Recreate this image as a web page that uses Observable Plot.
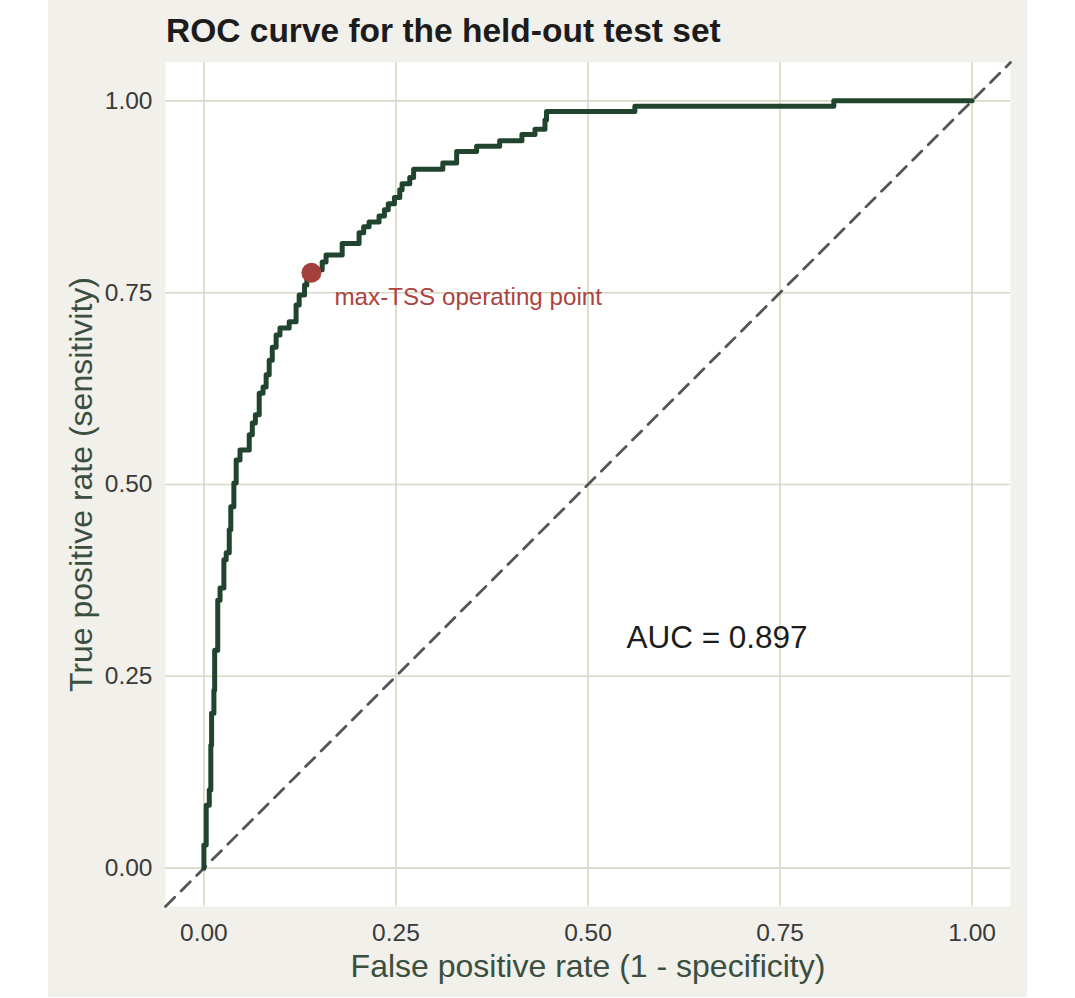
<!DOCTYPE html>
<html>
<head>
<meta charset="utf-8">
<script src="https://cdn.jsdelivr.net/npm/d3@7"></script>
<script src="https://cdn.jsdelivr.net/npm/@observablehq/plot@0.6"></script>
<style>
  body { margin: 0; background: #ffffff; font-family: "Liberation Sans", Arial, sans-serif; }
  #wrap { position: relative; width: 1075px; height: 998px; }
  #bg { position: absolute; left: 48px; top: 0; width: 979px; height: 997px; background: #f1f0ea; }
  #title { position: absolute; left: 166px; top: 14px; font-size: 33.5px; line-height: 33.5px; font-weight: bold; color: #1c1c1c; white-space: nowrap; }
  #chart { position: absolute; left: 0; top: 0; }
</style>
</head>
<body>
<div id="wrap">
  <div id="bg"></div>
  <div id="title">ROC curve for the held-out test set</div>
  <div id="chart"></div>
</div>
<script>
// ROC curve vertices (false positive rate, true positive rate), in path order
const rocFpr = [
  0, 0, 0.003, 0.003, 0.007, 0.007, 0.009, 0.009, 0.010, 0.010,
  0.013, 0.013, 0.014, 0.014, 0.018, 0.018, 0.021, 0.021, 0.026, 0.026,
  0.029, 0.029, 0.033, 0.033, 0.035, 0.035, 0.039, 0.039, 0.042, 0.042,
  0.047, 0.047, 0.059, 0.059, 0.063, 0.063, 0.067, 0.067, 0.072, 0.072,
  0.077, 0.077, 0.081, 0.081, 0.085, 0.085, 0.089, 0.089, 0.094, 0.094,
  0.099, 0.099, 0.111, 0.111, 0.120, 0.120, 0.124, 0.124, 0.131, 0.131,
  0.134, 0.134, 0.140, 0.140, 0.154, 0.154, 0.159, 0.159, 0.180, 0.180,
  0.202, 0.202, 0.208, 0.208, 0.215, 0.215, 0.228, 0.228, 0.235, 0.235,
  0.240, 0.240, 0.248, 0.248, 0.255, 0.255, 0.258, 0.258, 0.268, 0.268,
  0.273, 0.273, 0.311, 0.311, 0.329, 0.329, 0.355, 0.355, 0.385, 0.385,
  0.414, 0.414, 0.431, 0.431, 0.444, 0.444, 0.446, 0.446, 0.561, 0.561,
  0.820, 0.820, 1.000
];
const rocTpr = [
  0, 0.030, 0.030, 0.082, 0.082, 0.102, 0.102, 0.160, 0.160, 0.202,
  0.202, 0.232, 0.232, 0.284, 0.284, 0.349, 0.349, 0.365, 0.365, 0.402,
  0.402, 0.411, 0.411, 0.441, 0.441, 0.471, 0.471, 0.502, 0.502, 0.532,
  0.532, 0.545, 0.545, 0.565, 0.565, 0.580, 0.580, 0.591, 0.591, 0.619,
  0.619, 0.627, 0.627, 0.643, 0.643, 0.662, 0.662, 0.679, 0.679, 0.695,
  0.695, 0.704, 0.704, 0.712, 0.712, 0.734, 0.734, 0.747, 0.747, 0.760,
  0.760, 0.773, 0.773, 0.780, 0.780, 0.790, 0.790, 0.799, 0.799, 0.814,
  0.814, 0.828, 0.828, 0.836, 0.836, 0.842, 0.842, 0.850, 0.850, 0.858,
  0.858, 0.866, 0.866, 0.874, 0.874, 0.884, 0.884, 0.892, 0.892, 0.900,
  0.900, 0.911, 0.911, 0.919, 0.919, 0.934, 0.934, 0.941, 0.941, 0.948,
  0.948, 0.956, 0.956, 0.963, 0.963, 0.975, 0.975, 0.986, 0.986, 0.993,
  0.993, 1.000, 1.000
];

// Threshold that maximises TSS (sensitivity + specificity - 1)
const opFpr = [0.140];
const opTpr = [0.776];
const opLabel = ["max-TSS operating point"];

const aucValue = 0.897;
const tickValues = [0, 0.25, 0.5, 0.75, 1];
const chanceLine = [-0.05, 1.05];

const xTitle = "False positive rate (1 - specificity)";
const yTitle = "True positive rate (sensitivity)";

const roc = rocFpr.map((f, i) => ({fpr: f, tpr: rocTpr[i]}));
const op = opFpr.map((f, i) => ({fpr: f, tpr: opTpr[i], label: opLabel[i]}));

const chart = Plot.plot({
  width: 1075,
  height: 998,
  marginTop: 62,
  marginLeft: 165,
  marginRight: 65,
  marginBottom: 92,
  style: {background: "transparent", fontFamily: "Liberation Sans, Arial, sans-serif", overflow: "visible"},
  x: {domain: [-0.05, 1.05]},
  y: {domain: [-0.05, 1.05]},
  marks: [
    Plot.frame({fill: "#ffffff", stroke: null}),
    Plot.gridX(tickValues, {stroke: "#d8d8c6", strokeOpacity: 1, strokeWidth: 1.6}),
    Plot.gridY(tickValues, {stroke: "#d8d8c6", strokeOpacity: 1, strokeWidth: 1.6}),
    Plot.line(chanceLine, {x: d => d, y: d => d, stroke: "#555555", strokeWidth: 2.8, strokeDasharray: "13,9"}),
    Plot.line(roc, {x: "fpr", y: "tpr", stroke: "#21442f", strokeWidth: 5, strokeLinejoin: "round"}),
    Plot.dot(op, {x: "fpr", y: "tpr", r: 10, fill: "#a53f3d", stroke: null}),
    Plot.text(op, {x: "fpr", y: "tpr", text: "label", dx: 23, dy: 25, textAnchor: "start", fontSize: 24.2, fill: "#ad4340"}),
    Plot.text([`AUC = ${aucValue.toFixed(3)}`], {x: 0.55, y: 0.30, textAnchor: "start", fontSize: 31.5, fill: "#1c1c1c"}),
    Plot.axisX(tickValues, {tickSize: 0, tickPadding: 17, fontSize: 24.5, color: "#3a3a3a", tickFormat: d3.format(".2f"), label: null}),
    Plot.axisY(tickValues, {tickSize: 0, tickPadding: 13, fontSize: 24.5, color: "#3a3a3a", tickFormat: d3.format(".2f"), label: null}),
    Plot.text([xTitle], {frameAnchor: "bottom", dy: 60, lineAnchor: "middle", textAnchor: "middle", fontSize: 32, fill: "#3b4f40"}),
    Plot.text([yTitle], {frameAnchor: "left", dx: -84, textAnchor: "middle", lineAnchor: "middle", rotate: -90, fontSize: 32, fill: "#3b4f40"})
  ]
});

document.getElementById("chart").appendChild(chart);
</script>
</body>
</html>
